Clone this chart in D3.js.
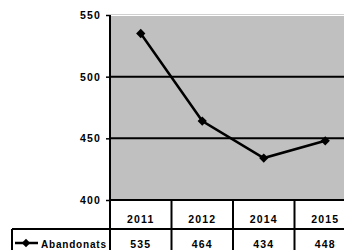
<!DOCTYPE html>
<html>
<head>
<meta charset="utf-8">
<script src="https://cdn.jsdelivr.net/npm/d3@7"></script>
<style>
  body { margin: 0; background: #fff; }
  text { font-family: "Liberation Sans", Arial, sans-serif; font-weight: bold; fill: #000; }
</style>
</head>
<body>
<svg id="chart" width="344" height="250"></svg>
<script>
const years = ["2011", "2012", "2014", "2015"];
const values = [535, 464, 434, 448];
const yTicks = [400, 450, 500, 550];
const seriesName = "Abandonats";

const svg = d3.select("#chart");
const plot = { left: 110, right: 356, top: 15, bottom: 200 };
const rowH = 29;

const x = d3.scaleBand().domain(years).range([plot.left, plot.right]);
const y = d3.scaleLinear().domain([400, 550]).range([plot.bottom, plot.top]);

const data = years.map((yr, i) => ({ year: yr, value: values[i] }));

// plot background
svg.append("rect")
  .attr("x", plot.left)
  .attr("y", plot.top + 1)
  .attr("width", plot.right - plot.left)
  .attr("height", plot.bottom - plot.top - 1)
  .attr("fill", "#c0c0c0");

svg.append("line")
  .attr("x1", plot.left).attr("x2", plot.right)
  .attr("y1", plot.top - 0.5).attr("y2", plot.top - 0.5)
  .attr("stroke", "#d0d0d0")
  .attr("stroke-width", 1);

// y axis with gridlines
const yAxis = d3.axisLeft(y).tickValues(yTicks).tickSize(4).tickPadding(3);
function customYAxis(s) {
  s.call(yAxis);
  s.select(".domain").remove();
  s.selectAll(".tick line").attr("stroke", "#000").attr("stroke-width", 1.5);
  s.selectAll(".tick text")
    .attr("font-size", 10.5)
    .attr("letter-spacing", 1.2)
    .attr("dx", -2)
    .attr("fill", "#000");
}
svg.append("g")
  .attr("transform", `translate(${plot.left}, 0)`)
  .call(customYAxis);

svg.append("g")
  .selectAll("line")
  .data(yTicks.filter(t => t > 400 && t < 550))
  .join("line")
  .attr("x1", plot.left).attr("x2", plot.right)
  .attr("y1", d => y(d)).attr("y2", d => y(d))
  .attr("stroke", "#000")
  .attr("stroke-width", 2);

// data table
const tableTop = plot.bottom;
const legendLeft = 12;
const tbl = svg.append("g");

tbl.append("line")
  .attr("x1", plot.left).attr("x2", plot.right)
  .attr("y1", tableTop).attr("y2", tableTop)
  .attr("stroke", "#000").attr("stroke-width", 2);
tbl.append("line")
  .attr("x1", legendLeft).attr("x2", plot.right)
  .attr("y1", tableTop + rowH).attr("y2", tableTop + rowH)
  .attr("stroke", "#000").attr("stroke-width", 2);
tbl.append("line")
  .attr("x1", legendLeft).attr("x2", legendLeft)
  .attr("y1", tableTop + rowH).attr("y2", 260)
  .attr("stroke", "#000").attr("stroke-width", 2);

tbl.selectAll(".col")
  .data(years.slice(1))
  .join("line")
  .attr("class", "col")
  .attr("x1", d => x(d)).attr("x2", d => x(d))
  .attr("y1", tableTop).attr("y2", 260)
  .attr("stroke", "#000").attr("stroke-width", 2);

tbl.selectAll(".hdr")
  .data(years)
  .join("text")
  .attr("class", "hdr")
  .attr("x", d => x(d) + x.bandwidth() / 2)
  .attr("y", tableTop + 23)
  .attr("text-anchor", "middle")
  .attr("font-size", 10.5)
  .attr("letter-spacing", 1.2)
  .text(d => d);

tbl.selectAll(".val")
  .data(data)
  .join("text")
  .attr("class", "val")
  .attr("x", d => x(d.year) + x.bandwidth() / 2)
  .attr("y", tableTop + rowH + 19)
  .attr("text-anchor", "middle")
  .attr("font-size", 10.5)
  .attr("letter-spacing", 1.2)
  .text(d => d.value);

// legend key
const legY = tableTop + rowH + 14;
tbl.append("line")
  .attr("x1", 15).attr("x2", 38)
  .attr("y1", legY).attr("y2", legY)
  .attr("stroke", "#000").attr("stroke-width", 2.5);
tbl.append("path")
  .attr("d", d3.symbol(d3.symbolDiamond2, 45)())
  .attr("transform", `translate(26, ${legY})`)
  .attr("fill", "#000");
tbl.append("text")
  .attr("x", 41)
  .attr("y", tableTop + rowH + 19)
  .attr("font-size", 10)
  .attr("letter-spacing", 0.8)
  .text(seriesName);

// vertical axis line
svg.append("line")
  .attr("x1", plot.left).attr("x2", plot.left)
  .attr("y1", plot.top).attr("y2", 260)
  .attr("stroke", "#000").attr("stroke-width", 2);

// series line
const valueline = d3.line()
  .x(d => x(d.year) + x.bandwidth() / 2)
  .y(d => y(d.value));

svg.append("path")
  .datum(data)
  .attr("d", valueline)
  .attr("fill", "none")
  .attr("stroke", "#000")
  .attr("stroke-width", 2.5);

svg.selectAll(".dot")
  .data(data)
  .join("path")
  .attr("class", "dot")
  .attr("d", d3.symbol(d3.symbolDiamond2, 55)())
  .attr("transform", d => `translate(${x(d.year) + x.bandwidth() / 2}, ${y(d.value)})`)
  .attr("fill", "#000");
</script>
</body>
</html>
